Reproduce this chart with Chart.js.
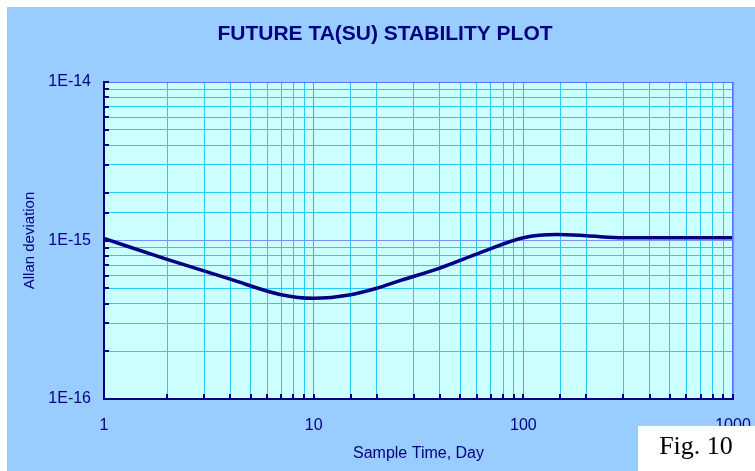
<!DOCTYPE html>
<html>
<head>
<meta charset="utf-8">
<script src="https://cdn.jsdelivr.net/npm/chart.js@4"></script>
<style>
  html, body { margin: 0; padding: 0; background: #ffffff; }
  #wrap { width: 755px; height: 471px; position: relative; }
</style>
</head>
<body>
<div id="wrap"><canvas id="c" width="755" height="471"></canvas></div>
<script>
// ---- data ----
const tauDays = [1, 2, 4, 7, 10, 15, 20, 26, 40, 62, 100, 145, 200, 300, 500, 1000];
const allanDev = [1.03e-15, 7.6e-16, 5.7e-16, 4.55e-16, 4.32e-16, 4.55e-16, 5.0e-16, 5.6e-16, 6.7e-16, 8.35e-16, 1.04e-15, 1.09e-15, 1.072e-15, 1.04e-15, 1.04e-15, 1.04e-15];
const xTickLabels = ['1', '10', '100', '1000'];
const yTickLabels = ['1E-16', '1E-15', '1E-14'];
const chartTitle = 'FUTURE TA(SU) STABILITY PLOT';
const xTitle = 'Sample Time, Day';
const yTitle = 'Allan deviation';
const figLabel = 'Fig. 10';

const NAVY = '#000080';
const isDecade = v => Math.abs(Math.log10(v) - Math.round(Math.log10(v))) < 1e-6;
const decadeIndex = (v, base) => Math.round(Math.log10(v)) - base;

const bgPlugin = {
  id: 'bg',
  beforeDraw(chart) {
    const ctx = chart.ctx;
    ctx.save();
    ctx.fillStyle = '#ffffff';
    ctx.fillRect(0, 0, chart.width, chart.height);
    ctx.fillStyle = '#99ccff';
    ctx.fillRect(7, 7, chart.width - 7, chart.height - 7);
    const a = chart.chartArea;
    ctx.fillStyle = '#ccffff';
    ctx.fillRect(a.left, a.top, a.right - a.left, a.bottom - a.top);
    // title
    ctx.fillStyle = NAVY;
    ctx.font = 'bold 21px "Liberation Sans", Arial, sans-serif';
    ctx.textAlign = 'center';
    ctx.textBaseline = 'middle';
    ctx.fillText(chartTitle, 385, 34);
    ctx.restore();
  },
  afterDraw(chart) {
    const ctx = chart.ctx;
    const a = chart.chartArea;
    ctx.save();
    // top/right frame
    ctx.strokeStyle = '#5a70ff';
    ctx.lineWidth = 1;
    ctx.beginPath();
    ctx.moveTo(a.left, a.top + 0.5);
    ctx.lineTo(a.right - 0.5, a.top + 0.5);
    ctx.lineTo(a.right - 0.5, a.bottom);
    ctx.stroke();
    // inward tick marks
    ctx.strokeStyle = NAVY;
    ctx.lineWidth = 2;
    const ys = chart.scales.y, xs = chart.scales.x;
    ctx.beginPath();
    ys.ticks.forEach(t => {
      const py = Math.round(ys.getPixelForValue(t.value));
      ctx.moveTo(a.left, py); ctx.lineTo(a.left + 5, py);
    });
    xs.ticks.forEach(t => {
      const px = Math.round(xs.getPixelForValue(t.value));
      ctx.moveTo(px, a.bottom); ctx.lineTo(px, a.bottom - 5);
    });
    ctx.stroke();
    // Fig label box
    ctx.fillStyle = '#ffffff';
    ctx.fillRect(638, 426, chart.width - 638, chart.height - 426);
    ctx.fillStyle = '#000000';
    ctx.font = '26px "Liberation Serif", "Times New Roman", serif';
    ctx.textAlign = 'center';
    ctx.textBaseline = 'middle';
    ctx.fillText(figLabel, 696, 447);
    ctx.restore();
  }
};

new Chart(document.getElementById('c'), {
  type: 'line',
  data: {
    datasets: [{
      data: tauDays.map((t, i) => ({ x: t, y: allanDev[i] })),
      borderColor: NAVY,
      borderWidth: 3.5,
      pointRadius: 0,
      fill: false,
      cubicInterpolationMode: 'monotone'
    }]
  },
  options: {
    responsive: false,
    animation: false,
    devicePixelRatio: 1,
    layout: { padding: { left: 7, right: 22, top: 82, bottom: 0 } },
    plugins: {
      legend: { display: false },
      tooltip: { enabled: false },
      title: { display: false }
    },
    scales: {
      x: {
        type: 'logarithmic',
        min: 1, max: 1000,
        afterFit(s) { s.height = 72; s.paddingLeft = 0; s.paddingRight = 0; },
        border: { display: true, color: NAVY, width: 2 },
        grid: {
          drawTicks: false,
          color: c => (c.tick && isDecade(c.tick.value)) ? '#7a8cff' : '#22ccf8',
          lineWidth: 1
        },
        ticks: {
          autoSkip: false,
          maxRotation: 0,
          padding: 17,
          color: NAVY,
          font: { family: '"Liberation Sans", Arial, sans-serif', size: 16 },
          callback: v => isDecade(v) ? xTickLabels[decadeIndex(v, 0)] : ''
        },
        title: {
          display: true,
          text: xTitle,
          color: NAVY,
          font: { family: '"Liberation Sans", Arial, sans-serif', size: 16 },
          padding: { top: 0, bottom: 8 }
        }
      },
      y: {
        type: 'logarithmic',
        min: 1e-16, max: 1e-14,
        afterFit(s) { s.width = 97; s.paddingTop = 0; s.paddingBottom = 0; },
        border: { display: true, color: NAVY, width: 2 },
        grid: {
          drawTicks: false,
          color: c => (c.tick && isDecade(c.tick.value)) ? '#7a8cff' : '#22ccf8',
          lineWidth: 1
        },
        ticks: {
          autoSkip: false,
          padding: 13,
          color: NAVY,
          font: { family: '"Liberation Sans", Arial, sans-serif', size: 16 },
          callback: v => isDecade(v) ? yTickLabels[decadeIndex(v, -16)] : ''
        },
        title: {
          display: true,
          text: yTitle,
          color: NAVY,
          font: { family: '"Liberation Sans", Arial, sans-serif', size: 15 },
          padding: { top: 14, bottom: 0 }
        }
      }
    }
  },
  plugins: [bgPlugin]
});
</script>
</body>
</html>
